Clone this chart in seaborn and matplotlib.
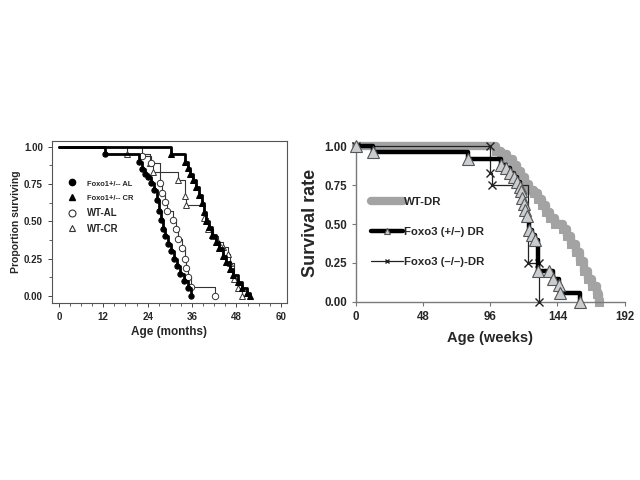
import numpy as np
import pandas as pd
import seaborn as sns
import matplotlib.pyplot as plt
from matplotlib.lines import Line2D
from matplotlib.legend_handler import HandlerLine2D
from matplotlib.ticker import MultipleLocator

# left panel: months, proportion surviving
foxo1_al_t = [0, 12.4, 21.6, 22.4, 23.2, 24.0, 24.8, 25.8, 26.6, 27.2, 27.6, 28.2, 28.8, 29.4, 30.3, 31.1, 32.0, 32.7, 33.8, 34.9, 35.8]
foxo1_al_s = [1.0, 0.95, 0.90, 0.85, 0.82, 0.80, 0.76, 0.71, 0.64, 0.57, 0.51, 0.45, 0.40, 0.35, 0.30, 0.25, 0.20, 0.15, 0.10, 0.05, 0.0]

foxo1_cr_t = [0, 30.4, 34.2, 34.9, 35.5, 36.2, 37.0, 38.0, 38.6, 39.2, 39.8, 40.6, 41.4, 42.4, 43.4, 44.4, 45.2, 46.2, 47.2, 48.4, 49.6, 50.8, 51.8]
foxo1_cr_s = [1.0, 0.95, 0.90, 0.86, 0.82, 0.78, 0.73, 0.68, 0.62, 0.56, 0.50, 0.46, 0.41, 0.36, 0.32, 0.27, 0.23, 0.18, 0.14, 0.09, 0.05, 0.02, 0.0]

wt_al_t = [0, 22.5, 24.8, 27.3, 27.9, 28.6, 29.1, 30.8, 31.6, 32.2, 33.2, 34.0, 34.5, 35.0, 35.8, 42.1]
wt_al_s = [1.0, 0.94, 0.89, 0.76, 0.69, 0.63, 0.57, 0.51, 0.45, 0.38, 0.32, 0.25, 0.19, 0.13, 0.06, 0.0]

wt_cr_t = [0, 18.3, 24.6, 25.4, 32.2, 34.1, 34.5, 39.2, 40.4, 41.6, 43.0, 44.4, 45.6, 46.4, 47.4, 48.3, 49.5]
wt_cr_s = [1.0, 0.95, 0.89, 0.83, 0.78, 0.67, 0.61, 0.52, 0.45, 0.40, 0.36, 0.33, 0.28, 0.22, 0.11, 0.05, 0.0]

# right panel: weeks, survival rate
wt_dr_t = [0, 100, 104, 108, 112, 115, 118, 121, 124, 127, 130, 133, 136, 139, 142, 148, 151, 154, 157, 160, 163, 166, 169, 172, 174]
wt_dr_s = [1.0, 0.97, 0.95, 0.92, 0.88, 0.84, 0.80, 0.76, 0.72, 0.70, 0.66, 0.62, 0.58, 0.54, 0.50, 0.47, 0.42, 0.37, 0.32, 0.26, 0.20, 0.15, 0.10, 0.05, 0.0]

het_dr_t = [0, 12, 80, 104, 107, 110, 113, 115, 117, 118, 119, 120, 121, 122, 124, 126, 128, 130, 138, 141, 145, 146, 160]
het_dr_s = [1.0, 0.96, 0.92, 0.88, 0.86, 0.83, 0.80, 0.77, 0.74, 0.71, 0.67, 0.63, 0.59, 0.55, 0.46, 0.43, 0.40, 0.20, 0.20, 0.15, 0.11, 0.06, 0.0]

ko_dr_t = [0, 96, 96, 97.5, 123, 131, 131]
ko_dr_s = [1.0, 1.0, 0.83, 0.75, 0.25, 0.25, 0.0]

sns.set_style("ticks")
plt.rcParams['font.family'] = ['Liberation Sans', 'DejaVu Sans']
plt.rcParams['font.weight'] = 'bold'

fig = plt.figure(figsize=(6.4, 4.8), dpi=100)
ax1 = fig.add_axes([0.081, 0.369, 0.367, 0.3375])
ax2 = fig.add_axes([0.556, 0.371, 0.420, 0.331])


def km(ax, t, s, **kw):
    df = pd.DataFrame({"t": t, "s": s})
    sns.lineplot(data=df, x="t", y="s", ax=ax, estimator=None, sort=False,
                 drawstyle="steps-post", clip_on=False, **kw)


class EndMarker(HandlerLine2D):
    # marker sits at the right end of the legend line
    def get_xdata(self, legend, xdescent, ydescent, width, height, fontsize):
        xdata, _ = super().get_xdata(legend, xdescent, ydescent, width, height, fontsize)
        return xdata, np.array([xdata[-1] - 1])


# ---- left panel
km(ax1, wt_cr_t, wt_cr_s, color="#333333", lw=0.8, marker="^", ms=4.6,
   mfc="white", mec="#333333", mew=0.7, markevery=slice(1, None))
km(ax1, wt_al_t, wt_al_s, color="#333333", lw=0.8, marker="o", ms=4.6,
   mfc="white", mec="#333333", mew=0.7, markevery=slice(1, None))
km(ax1, foxo1_cr_t, foxo1_cr_s, color="black", lw=2.0, marker="^", ms=3.8,
   mfc="black", mec="black", markevery=slice(1, None))
km(ax1, foxo1_al_t, foxo1_al_s, color="black", lw=2.0, marker="o", ms=3.8,
   mfc="black", mec="black", markevery=slice(1, None))

ax1.set_xlim(-1.9, 61.6)
ax1.set_ylim(-0.047, 1.04)
ax1.set_xticks(range(0, 61, 12))
ax1.set_yticks([0, 0.25, 0.5, 0.75, 1.0])
ax1.set_yticklabels(["0.00", "0.25", "0.50", "0.75", "1.00"])
ax1.xaxis.set_minor_locator(MultipleLocator(3))
ax1.yaxis.set_minor_locator(MultipleLocator(0.125))
ax1.tick_params(labelsize=7, length=3, width=0.7, color="#444444")
ax1.tick_params(which="minor", length=2, width=0.6, color="#444444")
for sp in ax1.spines.values():
    sp.set_color("#555555")
    sp.set_linewidth(0.8)
ax1.set_xlabel("Age (months)", fontsize=8.5, fontweight="bold", labelpad=3)
ax1.set_ylabel("Proportion surviving", fontsize=7.5, fontweight="bold", labelpad=2)

h1 = [Line2D([], [], ls="none", marker="o", ms=4.5, mfc="black", mec="black"),
      Line2D([], [], ls="none", marker="^", ms=4.5, mfc="black", mec="black"),
      Line2D([], [], ls="none", marker="o", ms=5, mfc="white", mec="#333333", mew=0.8),
      Line2D([], [], ls="none", marker="^", ms=5, mfc="white", mec="#333333", mew=0.8)]
leg1 = ax1.legend(h1, ["Foxo1+/-- AL", "Foxo1+/-- CR", "WT-AL", "WT-CR"],
                  loc="upper left", bbox_to_anchor=(0.03, 0.79), frameon=False,
                  handletextpad=0.5, labelspacing=0.6, borderaxespad=0,
                  prop={"weight": "bold", "size": 7})
for i, txt in enumerate(leg1.get_texts()):
    txt.set_fontsize(5.4 if i < 2 else 6.9)

# ---- right panel
km(ax2, wt_dr_t, wt_dr_s, color="#a3a3a3", lw=6, marker="s", ms=6,
   mfc="#a3a3a3", mec="#a3a3a3", label="WT-DR", zorder=2)
km(ax2, ko_dr_t, ko_dr_s, color="#222222", lw=0.9, marker="x", ms=6,
   mec="#222222", mew=1.0, label="Foxo3 (\u2013/\u2013)-DR", zorder=3)
km(ax2, het_dr_t, het_dr_s, color="black", lw=3.2, marker="^", ms=8,
   mfc="#c9cdd0", mec="#555555", mew=0.8, label="Foxo3 (+/\u2013) DR", zorder=4)

ax2.set_xlim(0, 192)
ax2.set_ylim(0, 1.02)
ax2.set_xticks(range(0, 193, 48))
ax2.set_yticks([0, 0.25, 0.5, 0.75, 1.0])
ax2.set_yticklabels(["0.00", "0.25", "0.50", "0.75", "1.00"])
ax2.tick_params(labelsize=8.3, length=3, width=0.8, color="#777777")
ax2.spines["top"].set_visible(False)
ax2.spines["right"].set_visible(False)
for sp in ["left", "bottom"]:
    ax2.spines[sp].set_color("#7a7a7a")
    ax2.spines[sp].set_linewidth(1.0)
ax2.set_xlabel("Age (weeks)", fontsize=10.5, fontweight="bold", labelpad=6)
ax2.set_ylabel("Survival rate", fontsize=13, fontweight="bold", labelpad=4)

lines = {ln.get_label(): ln for ln in ax2.get_lines()}
order = ["WT-DR", "Foxo3 (+/\u2013) DR", "Foxo3 (\u2013/\u2013)-DR"]
ax2.legend([lines[k] for k in order], order, loc="upper left",
           bbox_to_anchor=(0.04, 0.69), frameon=False, handlelength=2.8,
           handletextpad=0.1, labelspacing=1.75, borderaxespad=0,
           markerscale=0.6, prop={"weight": "bold", "size": 8.2},
           handler_map={lines[order[1]]: EndMarker()})

fig.savefig("out.png", dpi=100)
